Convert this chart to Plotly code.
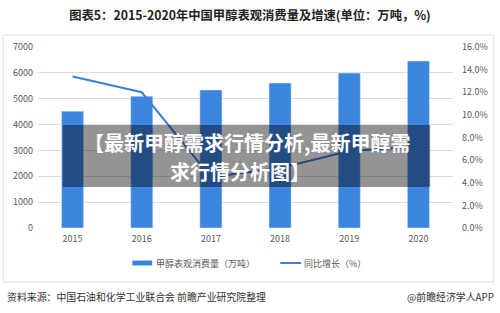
import plotly.graph_objects as go

years = ["2015", "2016", "2017", "2018", "2019", "2020"]
consumption = [4520, 5100, 5340, 5610, 5990, 6460]
growth = [13.4, 12.0, 4.5, 5.3, 6.8, 7.2]

bar_name = "甲醇表观消费量（万吨）"
line_name = "同比增长（%）"
title_text = "图表5：2015-2020年中国甲醇表观消费量及增速(单位：万吨，%)"
source_text = "资料来源：中国石油和化学工业联合会 前瞻产业研究院整理"
brand_text = "@前瞻经济学人APP"
overlay_line1 = "【最新甲醇需求行情分析,最新甲醇需"
overlay_line2 = "求行情分析图】"

FONT = "Noto Sans CJK SC"
BLUE = "#3d86e0"
LINE_BLUE = "#3f7fd8"

fig = go.Figure()
fig.add_trace(go.Bar(x=years, y=consumption, name=bar_name, marker_color=BLUE,
                     yaxis="y"))
fig.add_trace(go.Scatter(x=years, y=growth, name=line_name, mode="lines",
                         line=dict(color=LINE_BLUE, width=2), yaxis="y2"))

# plot area: x 38..456 px, y 47..228 px
PX = lambda x: (x - 38) / 418
PY = lambda y: (228 - y) / 181

fig.update_layout(
    width=500, height=313,
    margin=dict(l=38, r=44, t=47, b=85),
    paper_bgcolor="white", plot_bgcolor="white",
    font=dict(family=FONT, size=9, color="#595959"),
    bargap=0.68,
    showlegend=False,
    title=dict(text=title_text, x=0.5, xanchor="center", y=1 - 16 / 313,
               yanchor="middle", font=dict(family=FONT, size=12.3, color="#222222",
                                           weight="bold")),
    xaxis=dict(showgrid=False, showline=False, ticks="", tickfont=dict(size=9),
               ticklabelstandoff=4),
    yaxis=dict(range=[0, 7000], dtick=1000, showgrid=True, gridcolor="#dcdcdc",
               gridwidth=1, zeroline=False, showline=False, tickfont=dict(size=9),
               ticklabelstandoff=4),
    yaxis2=dict(range=[0, 16], dtick=2, overlaying="y", side="right", showgrid=False,
                zeroline=False, showline=False, tickformat=".1f", ticksuffix="%",
                tickfont=dict(size=9), ticklabelstandoff=8),
)

# outer chart box border
fig.add_shape(type="rect", xref="paper", yref="paper",
              x0=PX(3), x1=PX(497), y0=PY(282), y1=PY(35),
              line=dict(color="#e0e0e0", width=1), fillcolor="rgba(0,0,0,0)",
              layer="below")

# custom legend
fig.add_shape(type="rect", xref="paper", yref="paper",
              x0=PX(133), x1=PX(153), y0=PY(265.5), y1=PY(260.5),
              line=dict(width=0), fillcolor=BLUE, layer="above")
fig.add_annotation(text=bar_name, xref="paper", yref="paper",
                   x=PX(155), y=PY(263), showarrow=False, xanchor="left",
                   yanchor="middle", font=dict(family=FONT, size=9, color="#595959"))
fig.add_shape(type="line", xref="paper", yref="paper",
              x0=PX(282), x1=PX(303), y0=PY(263), y1=PY(263),
              line=dict(color=LINE_BLUE, width=2), layer="above")
fig.add_annotation(text=line_name, xref="paper", yref="paper",
                   x=PX(304), y=PY(263), showarrow=False, xanchor="left",
                   yanchor="middle", font=dict(family=FONT, size=9, color="#595959"))

# dark overlay banner
fig.add_shape(type="rect", xref="paper", yref="paper",
              x0=PX(63), x1=PX(433), y0=PY(187), y1=PY(125),
              line=dict(width=0), fillcolor="rgba(0,0,0,0.42)", layer="above")

fig.add_annotation(text=overlay_line1, xref="paper", yref="paper",
                   x=PX(249), y=PY(142), showarrow=False,
                   xanchor="center", yanchor="middle", borderpad=0,
                   font=dict(family=FONT, size=20, color="white", weight="bold"))
fig.add_annotation(text=overlay_line2, xref="paper", yref="paper",
                   x=PX(241), y=PY(171), showarrow=False,
                   xanchor="center", yanchor="middle", borderpad=0,
                   font=dict(family=FONT, size=20, color="white", weight="bold"))

# footer
fig.add_annotation(text=source_text, xref="paper", yref="paper",
                   x=PX(5), y=PY(297), showarrow=False,
                   xanchor="left", yanchor="middle",
                   font=dict(family=FONT, size=9.9, color="#333333"))
fig.add_annotation(text=brand_text, xref="paper", yref="paper",
                   x=PX(499), y=PY(297), showarrow=False,
                   xanchor="right", yanchor="middle",
                   font=dict(family=FONT, size=9.9, color="#333333"))

fig.write_html("out.html")
